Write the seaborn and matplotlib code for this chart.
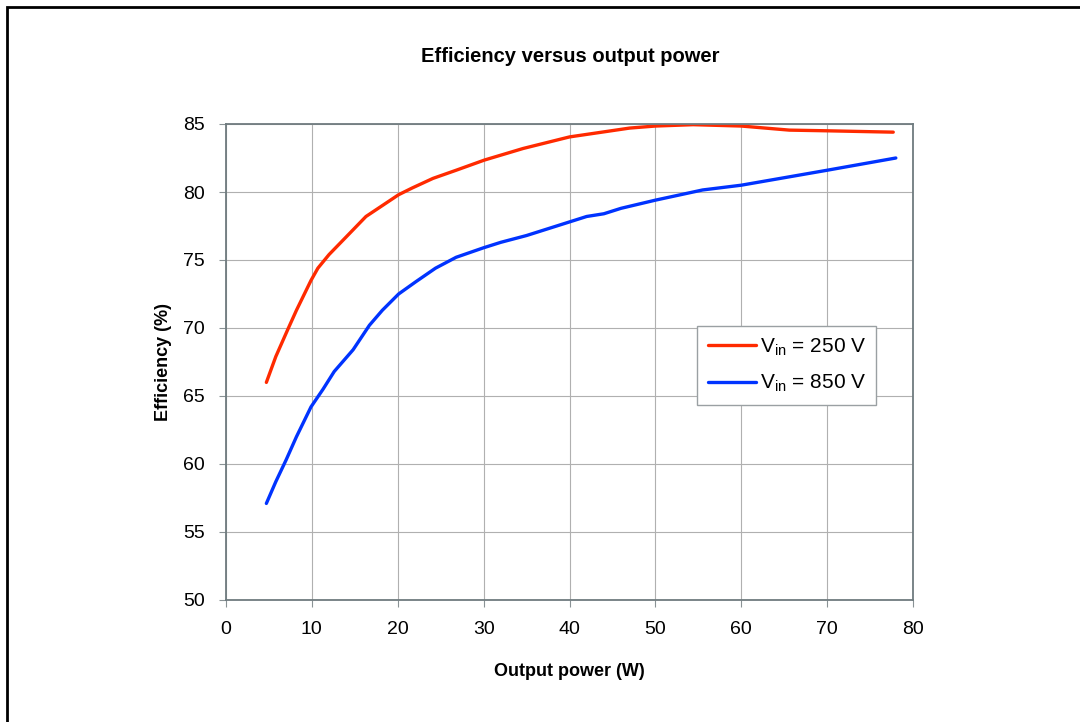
import pandas as pd
import matplotlib.pyplot as plt
import seaborn as sns
from matplotlib.patches import Rectangle

# Data
power_250 = [4.7, 5.8, 7.2, 8.2, 9.9, 10.7, 12.0, 14.0, 16.3, 18.2, 20.1, 21.7, 24.1,
             26.8, 30.1, 34.6, 40.0, 47.0, 50.0, 54.4, 60.0, 65.6, 70.0, 77.7]
eff_250 = [66.0, 67.9, 69.9, 71.3, 73.5, 74.4, 75.4, 76.7, 78.2, 79.0, 79.8, 80.3, 81.0,
           81.6, 82.35, 83.2, 84.05, 84.7, 84.85, 84.95, 84.85, 84.55, 84.5, 84.4]

power_850 = [4.7, 5.8, 7.0, 8.2, 9.9, 11.3, 12.6, 14.8, 16.7, 18.2, 20.1, 22.1, 24.4,
             26.8, 30.0, 32.0, 35.0, 38.0, 40.0, 42.0, 44.0, 46.0, 50.0, 55.5, 60.0, 70.0, 78.0]
eff_850 = [57.1, 58.7, 60.3, 62.0, 64.2, 65.5, 66.8, 68.4, 70.2, 71.3, 72.5, 73.4, 74.4,
           75.2, 75.9, 76.3, 76.8, 77.4, 77.8, 78.2, 78.4, 78.8, 79.4, 80.15, 80.5, 81.6, 82.5]

series_labels = [r'V$_{\mathrm{in}}$ = 250 V', r'V$_{\mathrm{in}}$ = 850 V']
series_colors = ['#ff2a00', '#0033ff']

sns.set_style('whitegrid')
plt.rcParams['font.family'] = ['Liberation Sans', 'DejaVu Sans']
plt.rcParams['mathtext.fontset'] = 'custom'
plt.rcParams['mathtext.rm'] = 'Liberation Sans'
plt.rcParams['mathtext.it'] = 'Liberation Sans'
plt.rcParams['text.color'] = 'black'
plt.rcParams['axes.labelcolor'] = 'black'
plt.rcParams['xtick.color'] = 'black'
plt.rcParams['ytick.color'] = 'black'

fig = plt.figure(figsize=(10.8, 7.22), dpi=100)
ax = fig.add_axes([226 / 1080, 1 - 600 / 722, 687 / 1080, 476 / 722])

df_250 = pd.DataFrame({'power': power_250, 'eff': eff_250})
df_850 = pd.DataFrame({'power': power_850, 'eff': eff_850})
sns.lineplot(data=df_250, x='power', y='eff', ax=ax, color=series_colors[0],
             linewidth=2.4, label=series_labels[0], sort=False)
sns.lineplot(data=df_850, x='power', y='eff', ax=ax, color=series_colors[1],
             linewidth=2.4, label=series_labels[1], sort=False)

ax.set_xlim(0, 80)
ax.set_ylim(50, 85)
ax.set_xticks(range(0, 81, 10))
ax.set_yticks(range(50, 86, 5))
ax.grid(True, color='#b0b0b0', linewidth=0.8)
for s in ax.spines.values():
    s.set_color('#6f7b7f')
    s.set_linewidth(1.3)
ax.tick_params(axis='both', labelsize=14, length=5, width=0.8, color='#8a9295',
               labelcolor='black', direction='out', bottom=True, left=True, pad=10)

ax.set_xlabel('Output power (W)', fontsize=13, fontweight='bold', labelpad=18)
ax.set_ylabel('Efficiency (%)', fontsize=13, fontweight='bold', labelpad=8)
fig.text(570 / 1080, 1 - 56 / 722, 'Efficiency versus output power',
         ha='center', va='center', fontsize=14.5, fontweight='bold')

leg = ax.legend(loc='upper left', bbox_to_anchor=(0.686, 0.576), fontsize=15,
                frameon=True, fancybox=False, handlelength=2.3, handletextpad=0.2,
                borderpad=0.5, labelspacing=0.75, borderaxespad=0)
leg.get_frame().set_edgecolor('#9aa0a3')
leg.get_frame().set_linewidth(1.0)
leg.get_frame().set_alpha(1)

# outer frame of the figure box
fig.patches.append(Rectangle((7 / 1080, -0.05), 1.1, 1 - 7 / 722 + 0.05,
                             transform=fig.transFigure, fill=False,
                             edgecolor='black', linewidth=2))

fig.savefig('out.png', dpi=100)
